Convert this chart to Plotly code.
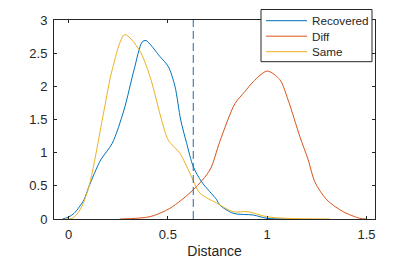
import plotly.graph_objects as go

# Recovered (blue)
rec_x = [-0.03, 0.0, 0.028, 0.078, 0.103, 0.162, 0.22, 0.279, 0.33, 0.371, 0.39, 0.46, 0.502, 0.536, 0.565, 0.595, 0.628, 0.67, 0.746, 0.762, 0.83, 0.93, 1.0, 1.1]
rec_y = [0.0, 0.03, 0.085, 0.29, 0.49, 0.89, 1.14, 1.64, 2.25, 2.67, 2.69, 2.45, 2.30, 2.0, 1.49, 1.14, 0.79, 0.56, 0.29, 0.21, 0.085, 0.06, 0.01, 0.0]

# Diff (orange)
diff_x = [0.26, 0.41, 0.51, 0.628, 0.712, 0.762, 0.838, 0.888, 0.93, 1.0, 1.064, 1.106, 1.165, 1.207, 1.24, 1.3, 1.383, 1.467, 1.5]
diff_y = [0.0, 0.035, 0.16, 0.44, 0.74, 1.17, 1.74, 1.92, 2.07, 2.23, 2.10, 1.79, 1.24, 0.89, 0.56, 0.29, 0.11, 0.01, 0.0]

# Same (yellow)
same_x = [-0.02, 0.02, 0.06, 0.103, 0.179, 0.22, 0.283, 0.356, 0.41, 0.469, 0.502, 0.561, 0.611, 0.662, 0.746, 0.828, 0.903, 0.997, 1.1, 1.316]
same_y = [0.0, 0.01, 0.15, 0.49, 1.64, 2.25, 2.78, 2.55, 2.15, 1.49, 1.19, 0.99, 0.69, 0.39, 0.24, 0.11, 0.11, 0.035, 0.01, 0.0]

threshold = 0.628

names = ["Recovered", "Diff", "Same"]
colors = ["#0072BD", "#D95319", "#EDB120"]

x_ticks = [0, 0.5, 1, 1.5]
x_ticklabels = ["0", "0.5", "1", "1.5"]
y_ticks = [0, 0.5, 1, 1.5, 2, 2.5, 3]
y_ticklabels = ["0", "0.5", "1", "1.5", "2", "2.5", "3"]

# layout geometry (figure pixels; page body adds an 8px offset)
W, H = 407, 252
L, R, T, B = 46, 40, 12, 41
PW, PH = W - L - R, H - T - B


def px(fx):
    return (fx - L) / PW


def py(fy):
    return (H - B - fy) / PH


fig = go.Figure()
for xs, ys, n, c in zip([rec_x, diff_x, same_x], [rec_y, diff_y, same_y], names, colors):
    fig.add_trace(go.Scatter(x=xs, y=ys, mode="lines", name=n, showlegend=False,
                             line=dict(color=c, width=1, shape="spline", smoothing=0.8)))

fig.add_shape(type="line", x0=threshold, x1=threshold, y0=0, y1=3, xref="x", yref="y",
              line=dict(color="#2066a8", width=1, dash="8px,4px"))

# legend box drawn in the MATLAB style
fig.add_shape(type="rect", xref="paper", yref="paper", layer="above",
              x0=px(253), x1=px(364), y0=py(53.7), y1=py(1.5),
              fillcolor="white", line=dict(color="#262626", width=1))
for i, (n, c) in enumerate(zip(names, colors)):
    fy = 12.7 + i * 15.5
    fig.add_shape(type="line", xref="paper", yref="paper", layer="above",
                  x0=px(258), x1=px(299), y0=py(fy), y1=py(fy),
                  line=dict(color=c, width=1))
    fig.add_annotation(x=px(302), y=py(fy), xref="paper", yref="paper", text=n,
                       showarrow=False, xanchor="left", yanchor="middle",
                       font=dict(size=11.7, color="#262626"))

axis_common = dict(showline=True, linecolor="#262626", linewidth=1, mirror="ticks",
                   ticks="inside", ticklen=3, tickcolor="#262626", showgrid=False,
                   zeroline=False, tickfont=dict(size=13, color="#262626"))

fig.update_layout(
    width=W, height=H,
    margin=dict(l=L, r=R, t=T, b=B, autoexpand=False),
    paper_bgcolor="white", plot_bgcolor="white",
    font=dict(family="Liberation Sans, Arial, sans-serif", color="#262626"),
    xaxis=dict(range=[-0.073, 1.543], tickvals=x_ticks, ticktext=x_ticklabels,
               ticklabelstandoff=3,
               title=dict(text="Distance", font=dict(size=14, color="#262626"), standoff=5),
               **axis_common),
    yaxis=dict(range=[0, 3], tickvals=y_ticks, ticktext=y_ticklabels,
               ticklabelstandoff=3, **axis_common),
    showlegend=False,
)

fig.write_html("out.html")
